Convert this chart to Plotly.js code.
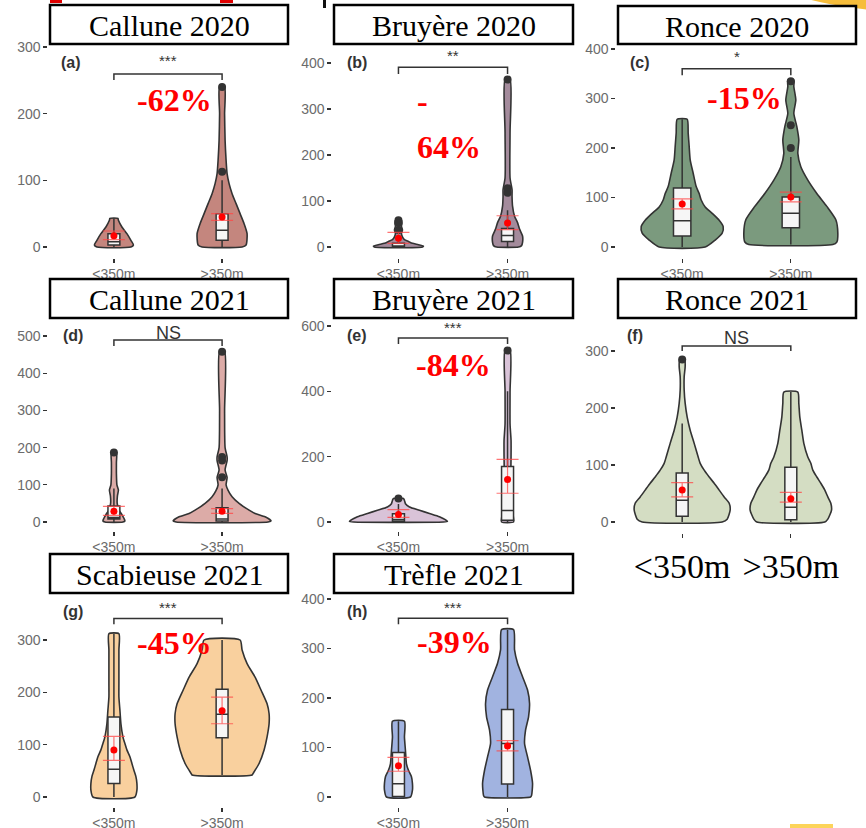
<!DOCTYPE html>
<html><head><meta charset="utf-8">
<script src="https://cdn.plot.ly/plotly-3.0.1.min.js"></script>
<style>html,body{margin:0;padding:0;background:#fff}#chart{width:866px;height:828px}</style>
</head><body><div id="chart"></div>
<script>
// ---------- DATA ----------
const categories = ['<350m', '>350m'];
const panelTitles = ['Callune 2020', 'Bruyère 2020', 'Ronce 2020', 'Callune 2021', 'Bruyère 2021', 'Ronce 2021', 'Scabieuse 2021', 'Trèfle 2021'];
const panelLetters = ['(a)', '(b)', '(c)', '(d)', '(e)', '(f)', '(g)', '(h)'];
const significance = ['***', '**', '*', 'NS', '***', 'NS', '***', '***'];
const percentLabels = ['-62%', '-64%', '-15%', '', '-84%', '', '-45%', '-39%'];
const fillColors = ['#c4867e', '#a48b9c', '#7b9a7e', '#dcaba7', '#d9c3d8', '#d4ddc3', '#f9d09e', '#a1b3e0'];

// violin profiles: value levels and half-widths (px) for [<350m, >350m]
const violinLevels = [
  [[0,3,10,20,30,40,43], [0,3,20,35,50,65,80,95,110,130,160,200,240]],
  [[0,2,5,8,12,16,22,30,37,45,52,58], [0,3,10,24,39,53,67,89,110,125,150,250,364]],
  [[0,14,28,41,54,68,81,95,108,122,149,176,203,230,258], [5,10,28,55,82,108,135,162,189,216,243,270,297,324,337]],
  [[0,3,10,20,32,50,70,86,100,130,160,187], [0,3,14,23,32,50,68,85,100,120,140,165,175,200,300,458]],
  [[0,2,16,26,36,46,56,66,72], [0,10,30,60,100,200,250,300,400,525]],
  [[0,5,21,33,44,56,68,79,91,103,114,138,161,184,208,231,255,273,285], [0,5,21,33,44,56,68,79,91,103,114,138,161,184,208,228]],
  [[0,13,26,39,51,64,77,90,102,115,140,166,191,217,281,312], [42,45,64,90,115,140,159,178,204,229,255,281,300]],
  [[0,14,27,41,54,67,94,121,153], [0,3,27,54,81,108,135,162,189,216,243,270,297,338]]
];
const violinHalfWidth = [
  [[17,19.5,17,13,8,4.5,4], [20,24,25,22,18,14,10,7,5,4,3,2.5,2.5]],
  [[24,25,20,14,10,6,4,3,4,3,3.5,3], [11,14,15,15,12,10,7,5,4.5,4.5,2.5,2.5,2.5]],
  [[23,33,40,41,37,30,23,19,17,14,11,8,7,6,5], [42,46,47,45,36,26,17,10,7,8,6,3,5,3,3]],
  [[9,11,10,8,5,3.3,3.5,4.5,3,2.5,2.5,2.5], [46,49,43,33,27,17,10,6,4,5,3,5,5,3,2.5,2.5]],
  [[45,49,41,31,21,11,7,6,5], [6,6,5,3,3,3.5,3.5,2.5,2.5,2.5]],
  [[40,45,48,47,42,37,32,27,22,18,16,12,8,5,3,2,2,3,2.5], [34,37,40.7,40,37,34,30,26,22,20,17,13,11,9,8,7]],
  [[21,23,23,22,20,18,16,13,11,9,7,6,5,5,5,5], [30,31,37,42,45,47,47,45,39,33,25,20,18]],
  [[12,14,14,13,10,8,7,6,6], [23,24,25,23,20,17,18,21,22,20,15,10,7,6]]
];
// box statistics [<350m, >350m]
const boxQ1 = [[3,10],[0,12],[22,39],[8,3],[2,5],[10,4],[26,113],[1,26]];
const boxMedian = [[8,25],[2,25],[53,68],[12,8],[8,35],[38,26],[53,158],[27,108]];
const boxQ3 = [[20,50],[8,40],[119,101],[43,38],[25,170],[86,96],[153,206],[90,177]];
const boxLow = [[0,0],[0,0],[0,5],[0,0],[0,0],[0,0],[0,42],[0,0]];
const boxHigh = [[43,100],[18,80],[258,182],[90,90],[55,400],[173,228],[312,300],[153,338]];
// mean and error bars
const meanValue = [[17,45],[19,52],[87,101],[29,29],[23,130],[56,41],[90,165],[63,103]];
const meanLow = [[11,40],[8,38],[77,91],[18,23],[14,88],[44,35],[70,140],[52,93]];
const meanHigh = [[24,50],[32,68],[97,111],[42,36],[38,192],[69,52],[116,191],[80,114]];
// outliers
const outliers = [
  [[], [240,113]],
  [[58,52,37], [364,128,118]],
  [[], [335,246,200]],
  [[187], [458,175,165,120]],
  [[72], [525]],
  [[285], []],
  [[], []],
  [[], []]
];
// significance brackets (value units)
const bracketTop = [259.5, 391, 360, 489, 563, 309, 341, 361];
const bracketEnd = [250.5, 376, 347, 473, 545, 300, 330, 349];
const yTickValues = [[0,100,200,300],[0,100,200,300,400],[0,100,200,300,400],[0,100,200,300,400,500],[0,200,400,600],[0,100,200,300],[0,100,200,300],[0,100,200,300,400]];

// ---------- LAYOUT GEOMETRY ----------
const W = 866, H = 828;
const xDomPx = [[49,287],[333,573],[617,856],[49,287],[333,573],[617,856],[49,287],[333,573]];
const yDomPx = [[44,257],[44,257],[44,257],[318,530],[318,530],[318,532],[593,806],[593,806]];
const yRanges = [[-15,304.5],[-21.7,441.3],[-20.2,410],[-21.5,548.4],[-24.5,624.5],[-17.5,357.9],[-17.2,389.8],[-18.2,412.1]];
const titleBoxPx = [[50,288,5,44],[334,573,5,44],[618,856,6,44],[50,288,279,318],[334,573,279,318],[618,856,279,318],[50,288,554,593],[334,573,554,593]];
const letterPx = [[71,62],[357,62],[640,62],[73,335],[357,335],[635,335],[73,611],[357,611]];
const sigYPx = [61,56,57,333,327,338,607,607];
const pctPx = [[174,100],[447,147],[744,98],null,[453,365],null,[174,643],[454,642]];

const px = v => v / W, py = v => 1 - v / H;
const traces = [];
const layout = {
  width: W, height: H, margin: {l:0,r:0,t:0,b:0},
  paper_bgcolor: '#fff', plot_bgcolor: 'rgba(0,0,0,0)',
  showlegend: false, shapes: [], annotations: [],
  font: {family: 'Liberation Sans, Arial, sans-serif'}
};
const tickFont = {family: 'Liberation Sans, Arial, sans-serif', size: 14, color: '#6b6b6b'};

for (let p = 0; p < 8; p++) {
  const n = p + 1;
  const xa = n === 1 ? 'x' : 'x' + n, ya = n === 1 ? 'y' : 'y' + n;
  const xKey = n === 1 ? 'xaxis' : 'xaxis' + n, yKey = n === 1 ? 'yaxis' : 'yaxis' + n;
  const pxPerUnit = (xDomPx[p][1] - xDomPx[p][0]) / 2.2;
  const bigX = p === 5;
  layout[xKey] = {
    domain: [px(xDomPx[p][0]), px(xDomPx[p][1])], anchor: ya,
    range: [0.4, 2.6], tickvals: [1, 2], ticktext: categories,
    showgrid: false, zeroline: false, showline: true, linecolor: '#333', linewidth: 1.6,
    ticks: 'outside', ticklen: 4, tickwidth: 1.3, tickcolor: '#333',
    tickfont: bigX ? {family: 'Liberation Serif, Times New Roman, serif', size: 34, color: '#000'} : tickFont,
    fixedrange: true
  };
  layout[yKey] = {
    domain: [py(yDomPx[p][1]), py(yDomPx[p][0])], anchor: xa,
    range: yRanges[p], tickvals: yTickValues[p],
    showgrid: false, zeroline: false, showline: true, linecolor: '#333', linewidth: 1.6,
    ticks: 'outside', ticklen: 4, tickwidth: 1.3, tickcolor: '#333',
    tickfont: tickFont, fixedrange: true
  };

  // violins
  for (let g = 0; g < 2; g++) {
    const lv = violinLevels[p][g], hw = violinHalfWidth[p][g], c = g + 1;
    const xs = [], ys = [];
    for (let i = 0; i < lv.length; i++) { xs.push(c + hw[i] / pxPerUnit); ys.push(lv[i]); }
    for (let i = lv.length - 1; i >= 0; i--) { xs.push(c - hw[i] / pxPerUnit); ys.push(lv[i]); }
    xs.push(xs[0]); ys.push(ys[0]);
    traces.push({type: 'scatter', mode: 'lines', x: xs, y: ys, xaxis: xa, yaxis: ya,
      fill: 'toself', fillcolor: fillColors[p],
      line: {color: '#333', width: 1.6, shape: 'spline', smoothing: 0.6},
      hoverinfo: 'skip', zorder: 0});
  }
  // boxes
  traces.push({type: 'box', x: [1, 2], xaxis: xa, yaxis: ya,
    q1: boxQ1[p], median: boxMedian[p], q3: boxQ3[p],
    lowerfence: boxLow[p], upperfence: boxHigh[p],
    boxpoints: false, width: p === 2 ? 0.16 : 0.11, whiskerwidth: 0,
    fillcolor: '#f6f6f6', line: {color: '#333', width: 1.5},
    hoverinfo: 'skip', zorder: 1});
  // outliers
  const ox = [], oy = [];
  for (let g = 0; g < 2; g++) outliers[p][g].forEach(v => { ox.push(g + 1); oy.push(v); });
  if (ox.length) traces.push({type: 'scatter', mode: 'markers', x: ox, y: oy, xaxis: xa, yaxis: ya,
    marker: {color: '#333', size: 8}, hoverinfo: 'skip', zorder: 2});
  // means with error bars
  traces.push({type: 'scatter', mode: 'markers', x: [1, 2], y: meanValue[p], xaxis: xa, yaxis: ya,
    marker: {color: '#ff0000', size: 7},
    error_y: {type: 'data', symmetric: false,
      array: meanHigh[p].map((v, i) => v - meanValue[p][i]),
      arrayminus: meanValue[p].map((v, i) => v - meanLow[p][i]),
      color: 'rgba(255,70,70,0.75)', thickness: 1.2, width: 11},
    hoverinfo: 'skip', zorder: 3});

  // significance bracket
  layout.shapes.push({type: 'path', xref: xa, yref: ya,
    path: `M 1,${bracketEnd[p]} L 1,${bracketTop[p]} L 2,${bracketTop[p]} L 2,${bracketEnd[p]}`,
    line: {color: '#333', width: 1.5}});
  // title box
  const tb = titleBoxPx[p];
  layout.shapes.push({type: 'rect', xref: 'paper', yref: 'paper',
    x0: px(tb[0]), x1: px(tb[1]), y0: py(tb[3]), y1: py(tb[2]),
    fillcolor: '#fff', line: {color: '#000', width: 2.5}, layer: 'above'});
  layout.annotations.push({xref: 'paper', yref: 'paper', x: px((tb[0] + tb[1]) / 2), y: py((tb[2] + tb[3]) / 2 + 1),
    text: panelTitles[p], showarrow: false, xanchor: 'center', yanchor: 'middle',
    font: {family: 'Liberation Serif, Times New Roman, serif', size: 30, color: '#000'}});
  // panel letter
  layout.annotations.push({xref: 'paper', yref: 'paper', x: px(letterPx[p][0]), y: py(letterPx[p][1]),
    text: '<b>' + panelLetters[p] + '</b>', showarrow: false, xanchor: 'center', yanchor: 'middle',
    font: {family: 'Liberation Sans, Arial, sans-serif', size: 16, color: '#333'}});
  // significance text
  const sx = xDomPx[p][0] + (1.5 - 0.4) * pxPerUnit;
  const isNS = significance[p] === 'NS';
  layout.annotations.push({xref: 'paper', yref: 'paper', x: px(sx), y: py(sigYPx[p]),
    text: significance[p], showarrow: false, xanchor: 'center', yanchor: 'middle',
    font: {family: 'Liberation Sans, Arial, sans-serif', size: isNS ? 18 : 15, color: '#333'}});
  // percent label
  if (percentLabels[p]) {
    if (p === 1) {
      layout.annotations.push({xref: 'paper', yref: 'paper', x: px(415), y: py(101),
        text: '<b>' + percentLabels[p].slice(0, 1) + '</b>', showarrow: false, xanchor: 'left', yanchor: 'middle',
        font: {family: 'Liberation Serif, Times New Roman, serif', size: 32, color: '#ff0000'}});
      layout.annotations.push({xref: 'paper', yref: 'paper', x: px(415), y: py(pctPx[p][1]),
        text: '<b>' + percentLabels[p].slice(1) + '</b>', showarrow: false, xanchor: 'left', yanchor: 'middle',
        font: {family: 'Liberation Serif, Times New Roman, serif', size: 32, color: '#ff0000'}});
    } else {
      layout.annotations.push({xref: 'paper', yref: 'paper', x: px(pctPx[p][0]), y: py(pctPx[p][1]),
        text: '<b>' + percentLabels[p] + '</b>', showarrow: false, xanchor: 'center', yanchor: 'middle',
        font: {family: 'Liberation Serif, Times New Roman, serif', size: 32, color: '#ff0000'}});
    }
  }
}

// slide fragments around the figure
layout.shapes.push({type: 'rect', xref: 'paper', yref: 'paper', x0: px(50), x1: px(62), y0: py(3), y1: py(0),
  fillcolor: '#e00000', line: {width: 0}, layer: 'above'});
layout.shapes.push({type: 'rect', xref: 'paper', yref: 'paper', x0: px(220), x1: px(233), y0: py(3), y1: py(0),
  fillcolor: '#e00000', line: {width: 0}, layer: 'above'});
layout.shapes.push({type: 'rect', xref: 'paper', yref: 'paper', x0: px(323), x1: px(326), y0: py(8), y1: py(0),
  fillcolor: '#111', line: {width: 0}, layer: 'above'});
layout.shapes.push({type: 'circle', xref: 'paper', yref: 'paper', x0: px(538), x1: px(1262), y0: py(11), y1: py(-713),
  fillcolor: '#f6bd3b', line: {width: 0}, layer: 'below'});
layout.shapes.push({type: 'rect', xref: 'paper', yref: 'paper', x0: px(790), x1: px(833), y0: py(828), y1: py(824),
  fillcolor: '#fcd45a', line: {width: 0}, layer: 'above'});

Plotly.newPlot('chart', traces, layout, {staticPlot: true, displayModeBar: false});
</script>
</body></html>
